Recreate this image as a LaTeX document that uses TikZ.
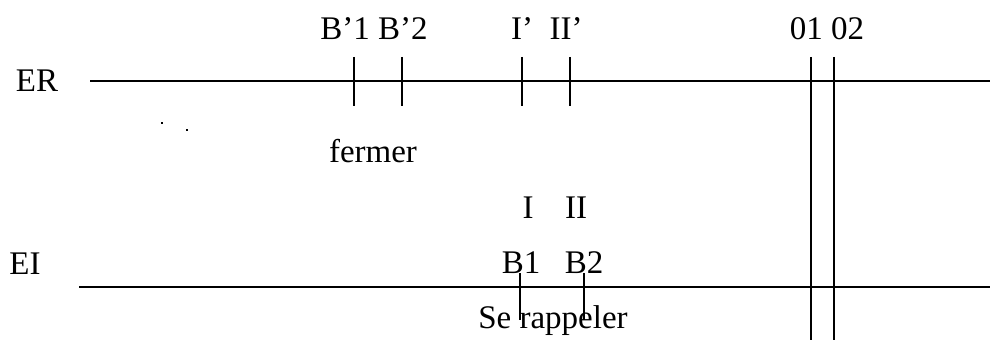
\documentclass[tikz,border=0pt]{standalone}
\usepackage{fontspec}
\setmainfont{Liberation Serif}
\usepackage{tikz}

\begin{document}
\begin{tikzpicture}[x=0.5pt, y=-0.5pt, line width=1pt, lab/.style = {inner sep=0pt, anchor=base, font=\fontsize{16.5}{19}\selectfont}]
\useasboundingbox (0,0) rectangle (990,340);
% labels
\node[lab] (er) at (37,92) {ER};
\node[lab] (ei) at (25,275) {EI};
\node[lab] (bp) at (374,40) {B’1 B’2};
\node[lab] (ip) at (522,40) {I’};
\node[lab] (iip) at (566,40) {II’};
\node[lab] (oo) at (827,40) {01 02};
\node[lab] (fermer) at (373,163) {fermer};
\node[lab] (i) at (528,219) {I};
\node[lab] (ii) at (576,219) {II};
\node[lab] (b1) at (521,274) {B1};
\node[lab] (b2) at (584,274) {B2};
\node[lab] (rap) at (553,329) {Se rappeler};
% lines
\coordinate (er0) at (90,81);
\coordinate (er1) at (990,81);
\coordinate (ei0) at (79,287);
\coordinate (ei1) at (990,287);
\draw (er0) -- (er1);
\draw (ei0) -- (ei1);
\foreach \n/\x in {tb1/354, tb2/402, ti1/522, ti2/570} {
  \coordinate (\n t) at (\x,57);
  \coordinate (\n b) at (\x,106);
  \draw (\n t) -- (\n b);
}
\foreach \n/\x in {o1/811, o2/834} {
  \coordinate (\n t) at (\x,57);
  \coordinate (\n b) at (\x,340);
  \draw (\n t) -- (\n b);
}
\foreach \n/\x in {tr1/520, tr2/584} {
  \coordinate (\n t) at (\x,273);
  \coordinate (\n b) at (\x,320);
  \draw[line width=0.75pt] (\n t) -- (\n b);
}
% dots
\fill (161,122) rectangle (163,124);
\fill (186,129) rectangle (188,131);
\end{tikzpicture}
\end{document}
